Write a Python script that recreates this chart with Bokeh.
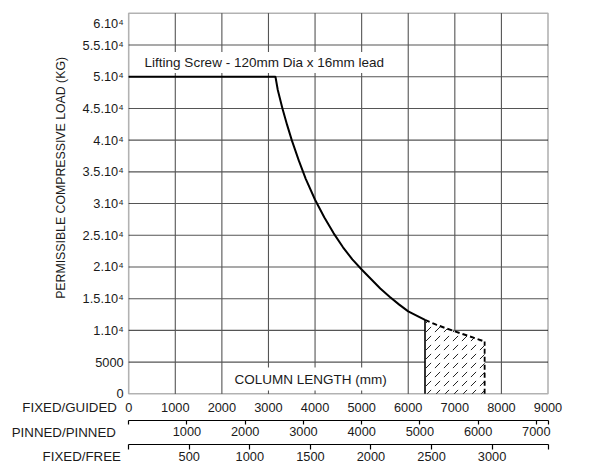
import math
from bokeh.plotting import figure
from bokeh.models import Range1d, LinearAxis, FixedTicker, Label, BoxAnnotation
from bokeh.embed import file_html
from bokeh.resources import INLINE

# ---------------- data ----------------
X_MAX = 9000
Y_MAX = 60000
FG_TICKS = [0, 1000, 2000, 3000, 4000, 5000, 6000, 7000, 8000, 9000]
PINNED_TICKS = [1000, 2000, 3000, 4000, 5000, 6000, 7000]
FREE_TICKS = [500, 1000, 1500, 2000, 2500, 3000]
PINNED_FACTOR = 1.25   # fixed/guided length equivalent to 1 mm pinned/pinned
FREE_FACTOR = 2.6      # fixed/guided length equivalent to 1 mm fixed/free
LOAD_TICKS = [0, 5000, 10000, 15000, 20000, 25000, 30000,
              35000, 40000, 45000, 50000, 55000, 60000]
LOAD_LABELS = ["0", "5000", "1.10\u2074", "1.5.10\u2074", "2.10\u2074",
               "2.5.10\u2074", "3.10\u2074", "3.5.10\u2074", "4.10\u2074",
               "4.5.10\u2074", "5.10\u2074", "5.5.10\u2074", "6.10\u2074"]

curve_length = [0, 3150, 3200, 3300, 3400, 3500, 3650, 3800, 4000, 4200,
                4400, 4600, 4800, 5000, 5200, 5400, 5600, 5800, 6000, 6200,
                6360]
curve_load = [50000, 50000, 47900, 45000, 42400, 40000, 36800, 33900, 30600,
              27800, 25300, 23100, 21200, 19600, 18100, 16600, 15300, 14100,
              13000, 12250, 11650]
ext_length = [6360, 6600, 6800, 7000, 7200, 7400, 7640]
ext_load = [11650, 10900, 10350, 9850, 9350, 8850, 8250]

TITLE = "Lifting Screw - 120mm Dia x 16mm lead"
XLABEL = "COLUMN LENGTH (mm)"
YLABEL = "PERMISSIBLE COMPRESSIVE LOAD (KG)"
ROW_NAMES = ["FIXED/GUIDED", "PINNED/PINNED", "FIXED/FREE"]

FONT = "Liberation Sans"
TXT = "#1a1a1a"
GRID = "#555555"

# ---------------- layout (pixels) ----------------
W, H = 583, 468
FX0, FX1 = 128.2, 547.5     # pixel x of length 0 and X_MAX
FY0, FY1 = 393.3, 12.8      # pixel y of load 0 and Y_MAX
SX = (FX1 - FX0) / X_MAX
SY = (FY0 - FY1) / Y_MAX


def dx(px):
    return (px - FX0) / SX


def dy(py):
    return (FY0 - py) / SY


p = figure(width=W, height=H,
           x_range=Range1d(dx(0), dx(W)), y_range=Range1d(dy(H), dy(0)),
           output_backend="svg", toolbar_location=None,
           min_border_left=0, min_border_right=0,
           min_border_top=0, min_border_bottom=0)
p.background_fill_color = "white"
p.border_fill_color = "white"
p.outline_line_color = None
p.xgrid.visible = False
p.ygrid.visible = False

p.extra_x_ranges = {
    "pinned": Range1d(dx(0) / PINNED_FACTOR, dx(W) / PINNED_FACTOR),
    "free": Range1d(dx(0) / FREE_FACTOR, dx(W) / FREE_FACTOR),
}

# ---------------- grid lines (from the tick lists) ----------------
inner_x = FG_TICKS[1:-1]
inner_y = LOAD_TICKS[1:-1]
p.segment(x0=inner_x, y0=[0] * len(inner_x), x1=inner_x,
          y1=[Y_MAX] * len(inner_x), line_color=GRID, line_width=1.1)
p.segment(x0=[0] * len(inner_y), y0=inner_y, x1=[X_MAX] * len(inner_y),
          y1=inner_y, line_color=GRID, line_width=1.1)

# ---------------- axes ----------------
ya = p.yaxis[0]
ya.fixed_location = 0
ya.bounds = (0, Y_MAX)
ya.ticker = FixedTicker(ticks=LOAD_TICKS)
ov = {t: l for t, l in zip(LOAD_TICKS, LOAD_LABELS)}
ov[LOAD_TICKS[-1]] = ""
ya.major_label_overrides = ov
ya.axis_line_color = None
ya.major_tick_line_color = None
ya.minor_tick_line_color = None
ya.major_tick_out = 0
ya.major_tick_in = 0
ya.major_label_standoff = 5

xa = p.xaxis[0]
xa.fixed_location = 0
xa.bounds = (0, X_MAX)
xa.ticker = FixedTicker(ticks=FG_TICKS)
xa.axis_line_color = None
xa.major_tick_line_color = None
xa.minor_tick_line_color = None
xa.major_tick_out = 0
xa.major_tick_in = 0
xa.major_label_standoff = 9


def bottom_axis(name, ticks, factor, ypix, tick_out, standoff):
    end = X_MAX / factor
    ax = LinearAxis(x_range_name=name, fixed_location=dy(ypix),
                    bounds=(0, end),
                    ticker=FixedTicker(ticks=[0] + ticks + [end]))
    ax.major_label_overrides = {0: "", end: ""}
    ax.axis_line_color = "black"
    ax.axis_line_width = 1.2
    ax.major_tick_line_color = "black"
    ax.major_tick_line_width = 1.2
    ax.minor_tick_line_color = None
    ax.major_tick_out = tick_out
    ax.major_tick_in = 0
    ax.major_label_standoff = standoff
    p.add_layout(ax, "below")
    return ax


pa = bottom_axis("pinned", PINNED_TICKS, PINNED_FACTOR, 419.7, 4, 3)
fa = bottom_axis("free", FREE_TICKS, FREE_FACTOR, 444.3, 5, 2)

for ax in (ya, xa, pa, fa):
    ax.major_label_text_font = FONT
    ax.major_label_text_font_size = "12.8px"
    ax.major_label_text_color = TXT

# ---------------- marks ----------------
hx = [ext_length[0]] + ext_length + [ext_length[-1]]
hy = [0] + ext_load + [0]
p.patch(hx, hy, fill_color="white", line_color=None,
        hatch_pattern="right_diagonal_dash", hatch_color="#222222",
        hatch_weight=1.0, hatch_scale=9)

p.line(curve_length, curve_load, line_color="black", line_width=2)
p.line(ext_length, ext_load, line_color="black", line_width=2,
       line_dash="5 3")
p.segment(x0=[ext_length[0]], y0=[0], x1=[ext_length[0]], y1=[ext_load[0]],
          line_color="black", line_width=1.6)
p.segment(x0=[ext_length[-1]], y0=[0], x1=[ext_length[-1]],
          y1=[ext_load[-1]], line_color="black", line_width=1.8,
          line_dash="5 3")

p.add_layout(BoxAnnotation(left=0, right=X_MAX, bottom=0, top=Y_MAX,
                           fill_color=None, line_color="black",
                           line_width=1.6))

# ---------------- texts ----------------
def lab(px, py, text, align="left", size="13.3px", bg=None, angle=0.0,
        pad=0):
    kw = dict(x=dx(px), y=dy(py), text=text, text_align=align,
              text_baseline="middle", text_font=FONT, text_font_size=size,
              text_color=TXT, angle=angle)
    if bg:
        kw.update(background_fill_color=bg, padding=pad)
    p.add_layout(Label(**kw))


lab(141.1, 61.9, TITLE, size="13.5px", bg="white", pad=3)
lab(229.9, 378.5, XLABEL, size="13.5px", bg="white", pad=4)
lab(123.2, 23.0, LOAD_LABELS[-1], align="right", size="12.8px")
lab(60.2, 177.4, YLABEL, align="center", size="12.3px", angle=math.pi / 2)
lab(116.4, 407.0, ROW_NAMES[0], align="right")
lab(115.4, 431.6, ROW_NAMES[1], align="right")
lab(120.4, 456.0, ROW_NAMES[2], align="right")

open("out.html", "w").write(file_html(p, INLINE))
